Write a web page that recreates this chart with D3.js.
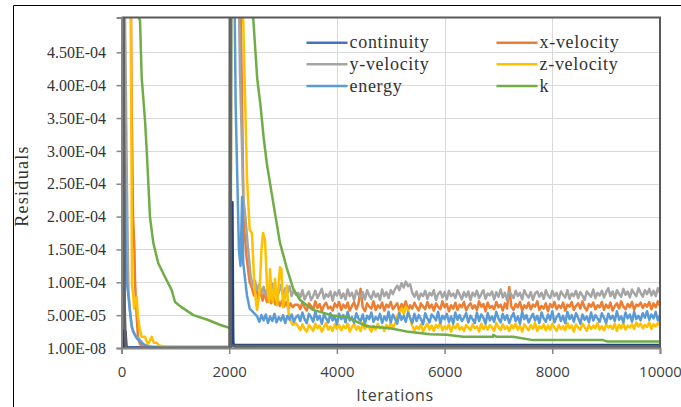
<!DOCTYPE html>
<html><head><meta charset="utf-8">
<script src="https://cdn.jsdelivr.net/npm/d3@7"></script>
<style>body{margin:0;background:#fff;} svg{display:block}</style>
</head><body><svg id="c" width="681" height="407"></svg>
<script>
// ---------------- DATA (values in units of 1e-6) ----------------
const UNIT = 1e-6;
const legendNames = ["continuity", "x-velocity", "y-velocity", "z-velocity", "energy", "k"];
const xTicks = [0, 2000, 4000, 6000, 8000, 10000];
const yTicks = [1e-8, 5e-5, 1e-4, 1.5e-4, 2e-4, 2.5e-4, 3e-4, 3.5e-4, 4e-4, 4.5e-4];
const yTickLabels = ["1.00E-08", "5.00E-05", "1.00E-04", "1.50E-04", "2.00E-04", "2.50E-04", "3.00E-04", "3.50E-04", "4.00E-04", "4.50E-04"];

// continuity
const contIter = [0, 20, 35, 50, 90, 2020, 2040, 2055, 2070, 2100, 10000];
const contVal  = [900, 420, 60, 8, 1, 1, 150, 120, 6, 2, 1.5];

// x-velocity: start + restart transient
const xvIter = [0, 170, 190, 200, 214, 240, 251, 282, 306, 344, 400, 2025,
  2040, 2180, 2230, 2270, 2320, 2380, 2420, 2460, 2500, 2540, 2580, 2620, 2660, 2700, 2740, 2780, 2820, 2860, 2900, 2940, 2980, 3020, 3060, 3100, 3140, 3180, 3220];
const xvVal = [900, 600, 350, 300, 200, 150, 103, 47, 17, 6, 2, 2,
  900, 700, 420, 190, 140, 100, 92, 80, 95, 75, 88, 72, 85, 70, 82, 68, 78, 66, 74, 64, 72, 63, 70, 60, 68, 62, 66];

// y-velocity
const yvIter = [0, 50, 80, 100, 115, 130, 160, 189, 250, 344, 420, 550, 2025,
  2040, 2150, 2200, 2230, 2260, 2300, 2340, 2400, 2440, 2480, 2520, 2560, 2600, 2640, 2680, 2720, 2760, 2800, 2840, 2880, 2920, 2960, 3000, 3040, 3080, 3120, 3160, 3200, 3240];
const yvVal = [900, 600, 400, 250, 160, 84, 55, 32, 20, 12, 5, 1, 0.5,
  900, 700, 420, 330, 230, 200, 160, 108, 95, 102, 88, 97, 84, 93, 80, 95, 86, 98, 82, 90, 84, 96, 80, 91, 83, 94, 79, 88, 81];

// z-velocity
const zvIter = [0, 150, 185, 195, 214, 235, 251, 282, 306, 344, 375, 436, 470, 492, 530, 561, 600, 654, 700, 839, 1000, 2025,
  2040, 2200, 2260, 2330, 2380, 2423, 2470, 2516, 2560, 2600, 2628, 2665, 2702, 2740, 2758, 2790, 2813, 2851, 2890, 2943, 2970, 3000, 3040, 3074, 3100, 3130, 3180, 3230];
const zvVal = [900, 800, 300, 95, 84, 60, 68, 78, 47, 27, 17, 17, 10, 6, 12, 17, 8, 8, 4, 1.5, 0.5, 0.5,
  900, 800, 500, 260, 180, 175, 90, 58, 80, 150, 175, 165, 95, 70, 120, 75, 70, 105, 65, 123, 120, 62, 80, 95, 55, 43, 35, 38];

// energy
const enIter = [0, 30, 50, 65, 80, 97, 121, 158, 189, 214, 282, 375, 492, 700, 2025,
  2040, 2090, 2120, 2150, 2180, 2210, 2240, 2260, 2290, 2330, 2380, 2440, 2520, 2560, 2600, 2640, 2680, 2720, 2760, 2800, 2840, 2880, 2920, 2960, 3000, 3040, 3080, 3120, 3160, 3200, 3240];
const enVal = [900, 380, 330, 250, 150, 100, 85, 55, 35, 25, 15, 7, 2, 0.5, 0.5,
  900, 600, 370, 260, 150, 125, 230, 130, 108, 80, 60, 55, 48, 40, 50, 42, 51, 38, 48, 41, 52, 39, 47, 42, 50, 38, 49, 43, 51, 40, 47];

// k
const kIter = [0, 200, 314, 344, 375, 436, 468, 498, 529, 591, 683, 808, 932, 994, 1100, 1336, 1596, 1837, 2030,
  2045, 2440, 2480, 2520, 2580, 2640, 2700, 2790, 2850, 2943, 3068, 3190, 3315, 3556, 3899, 4182, 4368, 4554, 4986, 5296, 5729, 6039, 6342, 6900, 6905, 6968, 7270, 7642, 8942, 9011, 10000];
const kVal = [1500, 900, 505, 498, 412, 347, 301, 251, 199, 160, 129, 108, 88, 70, 63, 50, 43, 35, 30,
  1500, 510, 460, 410, 370, 320, 280, 235, 205, 160, 122, 90, 73, 58, 50, 47, 40, 33, 30, 25, 21, 20, 17, 17, 20, 17, 17, 12, 12, 10, 10];

// unlabelled extra residuals (no legend entry in the original)
const epsIter = [0, 40, 55, 75, 95, 2030, 2045, 2060, 2075, 2090, 2300, 10000];
const epsVal  = [0, 0, 27, 25, 0, 0, 222, 222, 8, 5, 4.5, 4.5];
const omIter = [0, 30, 45, 60, 80, 2005, 2015, 2020, 2028, 10000];
const omVal  = [900, 900, 360, 60, 0, 0, 900, 900, 3, 2.5];

// settled noisy part, iterations 3280..10000 every 40
const bandStart = 3280, bandStep = 40;
const xvBand = [
  66, 59, 70, 62, 57, 68, 64, 58, 71, 61, 67, 56, 65, 69, 60, 63, 57, 68, 62, 70,
  58, 66, 61, 69, 57, 64, 70, 59, 67, 90, 62, 56, 68, 63, 60, 71, 58, 65, 61, 69,
  57, 66, 62, 70, 59, 64, 68, 56, 67, 61, 71, 58, 65, 60, 69, 62, 57, 68, 63, 59,
  70, 61, 66, 57, 68, 63, 59, 71, 62, 67, 56, 65, 60, 69, 58, 66, 62, 70, 57, 64,
  68, 60, 65, 58, 71, 63, 67, 56, 69, 61, 64, 59, 70, 62, 66, 57, 68, 60, 93, 63,
  58, 67, 62, 70, 57, 65, 61, 69, 59, 66, 63, 71, 58, 64, 60, 68, 56, 67, 62, 70,
  59, 65, 61, 69, 57, 66, 63, 70, 58, 64, 68, 60, 71, 62, 57, 67, 63, 69, 59, 65,
  62, 70, 58, 66, 61, 69, 57, 64, 68, 60, 71, 63, 59, 67, 62, 70, 58, 66, 64, 69,
  61, 67, 63, 70, 59, 68, 62, 71, 64];
const yvBand = [
  84, 77, 88, 74, 81, 86, 73, 79, 87, 76, 83, 90, 75, 82, 78, 86, 72, 85, 80, 88,
  76, 83, 74, 89, 79, 84, 73, 87, 81, 77, 85, 74, 88, 80, 75, 86, 78, 83, 73, 89,
  79, 85, 76, 88, 82, 90, 95, 88, 99, 92, 101, 94, 97, 84, 78, 86, 74, 83, 79, 87,
  75, 84, 80, 88, 73, 82, 86, 77, 85, 74, 87, 79, 83, 76, 88, 81, 74, 85, 78, 86,
  73, 84, 79, 87, 76, 82, 88, 75, 83, 80, 86, 74, 85, 78, 89, 77, 84, 73, 86, 81,
  76, 87, 79, 84, 74, 88, 81, 77, 85, 73, 83, 86, 78, 84, 75, 88, 80, 76, 87, 79,
  84, 74, 86, 81, 77, 88, 75, 83, 79, 87, 76, 85, 80, 73, 86, 82, 78, 89, 76, 84,
  80, 87, 77, 85, 91, 79, 86, 76, 88, 82, 78, 90, 81, 86, 77, 89, 83, 79, 91, 84,
  78, 88, 82, 90, 80, 87, 79, 91, 84];
const enBand = [
  50, 41, 54, 44, 38, 52, 47, 40, 55, 43, 49, 37, 51, 45, 39, 53, 42, 48, 36, 52,
  44, 50, 39, 55, 42, 47, 38, 53, 45, 41, 51, 37, 49, 44, 54, 40, 47, 43, 52, 38,
  48, 42, 55, 39, 51, 45, 37, 53, 43, 49, 40, 54, 46, 38, 52, 41, 50, 44, 36, 53,
  45, 39, 51, 47, 42, 55, 38, 49, 44, 52, 40, 48, 37, 54, 43, 50, 41, 46, 53, 39,
  49, 44, 38, 54, 41, 51, 46, 37, 53, 42, 48, 40, 55, 45, 39, 52, 43, 50, 38, 47,
  53, 41, 48, 37, 55, 44, 50, 39, 46, 52, 42, 49, 38, 54, 45, 40, 51, 43, 56, 39,
  47, 52, 41, 49, 38, 55, 44, 50, 40, 53, 46, 37, 51, 43, 48, 39, 54, 42, 50, 45,
  40, 53, 46, 38, 52, 44, 49, 41, 56, 43, 48, 39, 54, 45, 51, 40, 55, 44, 49, 42,
  53, 46, 56, 43, 51, 45, 55, 42, 50];
const zvBand = [
  33, 27, 36, 29, 25, 35, 31, 26, 37, 30, 34, 25, 32, 38, 28, 33, 26, 36, 29, 35,
  27, 34, 30, 37, 25, 32, 36, 28, 33, 26, 38, 29, 35, 31, 25, 34, 28, 37, 30, 33,
  26, 35, 29, 38, 31, 36, 48, 55, 60, 52, 63, 57, 45, 34, 27, 33, 29, 36, 25, 32,
  37, 28, 34, 26, 35, 31, 38, 27, 33, 29, 36, 25, 34, 30, 37, 28, 32, 26, 35, 31,
  27, 36, 30, 33, 25, 37, 29, 34, 28, 35, 31, 26, 38, 32, 27, 36, 29, 33, 26, 35,
  30, 37, 28, 34, 25, 36, 31, 27, 35, 29, 38, 26, 33, 30, 36, 27, 34, 28, 37, 31,
  26, 35, 29, 33, 27, 38, 30, 34, 25, 36, 31, 28, 37, 32, 26, 35, 29, 34, 30, 38,
  28, 33, 27, 36, 31, 34, 29, 37, 26, 35, 30, 38, 28, 34, 31, 36, 29, 39, 33, 37,
  30, 35, 32, 39, 29, 36, 33, 38, 34];

// ---------------- BUILD SERIES ----------------
const bandIter = xvBand.map((_, i) => bandStart + i * bandStep);
function pts(it, v) { return it.map((d, i) => ({ it: d, v: v[i] * UNIT })).filter(d => d.it <= 10000); }
const series = [
  { name: "continuity", color: "#4472C4", data: pts(contIter, contVal) },
  { name: "x-velocity", color: "#ED7D31", data: pts(xvIter.concat(bandIter), xvVal.concat(xvBand)) },
  { name: "y-velocity", color: "#A5A5A5", data: pts(yvIter.concat(bandIter), yvVal.concat(yvBand)) },
  { name: "z-velocity", color: "#FFC000", data: pts(zvIter.concat(bandIter), zvVal.concat(zvBand)) },
  { name: "energy", color: "#5B9BD5", data: pts(enIter.concat(bandIter), enVal.concat(enBand)) },
  { name: "k", color: "#70AD47", data: pts(kIter, kVal) },
  { name: "epsilon", color: "#264478", data: pts(epsIter, epsVal) },
  { name: "other", color: "#636363", data: pts(omIter, omVal) }
];

// ---------------- DRAW ----------------
const SERIF = "'Liberation Serif', 'Times New Roman', 'DejaVu Serif', serif";
const SANS = "'Open Sans', 'Liberation Sans', sans-serif";
const svg = d3.select("#c");
const L = 121.5, R = 660, T = 17.5, B = 348;
const x = d3.scaleLinear().domain([0, 10000]).range([L, R]);
const y = d3.scaleLinear().domain([1e-8, 5.03e-4]).range([B, T]);

// outer chart border (top & left visible)
svg.append("path").attr("d", "M13.5,407V5.5H681").attr("fill", "none").attr("stroke", "#000").attr("stroke-width", 1);

// gridlines
const grid = svg.append("g");
grid.selectAll("line.h").data(yTicks.slice(1)).join("line")
  .attr("x1", L).attr("x2", R).attr("y1", d => Math.round(y(d)) + 0.5).attr("y2", d => Math.round(y(d)) + 0.5)
  .attr("stroke", "#d9d9d9").attr("stroke-width", 1);
grid.selectAll("line.v").data(xTicks.slice(1, -1)).join("line")
  .attr("y1", T).attr("y2", B).attr("x1", d => Math.round(x(d)) + 0.5).attr("x2", d => Math.round(x(d)) + 0.5)
  .attr("stroke", "#d9d9d9").attr("stroke-width", 1);

// clip
svg.append("clipPath").attr("id", "clip").append("rect").attr("x", L).attr("y", T).attr("width", R - L).attr("height", B - T + 1);

const line = d3.line().x(d => x(d.it)).y(d => y(d.v));
svg.append("g").attr("clip-path", "url(#clip)").selectAll("path").data(series).join("path")
  .attr("d", d => line(d.data)).attr("fill", "none").attr("stroke", d => d.color)
  .attr("stroke-width", 2.5).attr("stroke-linejoin", "round");

// frame top/right
svg.append("path").attr("d", `M${L},${T}H${R}V${B}`).attr("fill", "none").attr("stroke", "#595959").attr("stroke-width", 2);

// axes
const yAxis = svg.append("g").attr("transform", `translate(${L},0)`)
  .call(d3.axisLeft(y).tickValues(yTicks).tickFormat((d, i) => yTickLabels[i]).tickSizeOuter(0).tickSize(5).tickPadding(10.5));
yAxis.attr("font-family", null).attr("font-size", null);
yAxis.select(".domain").attr("stroke", "#868686").attr("stroke-width", 2);
yAxis.selectAll(".tick line").attr("stroke", "#868686").attr("stroke-width", 1.5);
yAxis.selectAll(".tick text").style("font-family", SERIF).style("font-size", "16px").attr("fill", "#333");

const xAxis = svg.append("g").attr("transform", `translate(0,${B})`)
  .call(d3.axisBottom(x).tickValues(xTicks).tickFormat(d3.format("d")).tickSizeOuter(0).tickSize(6).tickPadding(12));
xAxis.attr("font-family", null).attr("font-size", null);
xAxis.select(".domain").attr("stroke", "#868686").attr("stroke-width", 2);
xAxis.selectAll(".tick line").attr("stroke", "#868686").attr("stroke-width", 1.5);
xAxis.selectAll(".tick text").style("font-family", SANS).style("font-size", "15px").attr("fill", "#404040");

// axis titles
svg.append("text").attr("x", 395).attr("y", 401).attr("text-anchor", "middle")
  .style("font-family", SANS).style("font-size", "16px").style("letter-spacing", "0.6px")
  .attr("fill", "#404040").text("Iterations");
svg.append("text").attr("transform", "translate(28,186) rotate(-90)").attr("text-anchor", "middle")
  .style("font-family", SERIF).style("font-size", "18px").style("letter-spacing", "1.3px")
  .attr("fill", "#333").text("Residuals");

// legend
const legendCols = [306.5, 496.5];
const legendRows = [42.7, 64.3, 86];
const lg = svg.append("g").selectAll("g").data(legendNames).join("g")
  .attr("transform", (d, i) => `translate(${legendCols[i % 2]},${legendRows[Math.floor(i / 2)]})`);
lg.append("line").attr("x1", 0).attr("x2", 41).attr("y1", 0).attr("y2", 0)
  .attr("stroke", d => series.find(s => s.name === d).color).attr("stroke-width", 2.5);
lg.append("text").attr("x", 43).attr("dy", "0.32em")
  .style("font-family", SERIF).style("font-size", "18px").style("letter-spacing", "0.7px")
  .attr("fill", "#333").text(d => d);
</script></body></html>
